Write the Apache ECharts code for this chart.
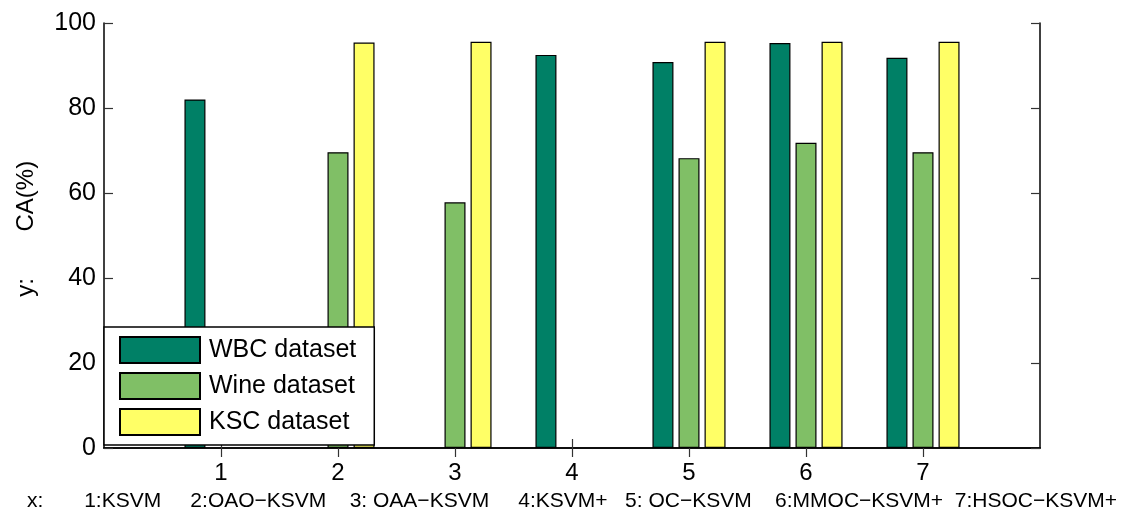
<!DOCTYPE html>
<html>
<head>
<meta charset="utf-8">
<script src="https://cdn.jsdelivr.net/npm/echarts@6/dist/echarts.min.js"></script>
<style>
  html, body { margin: 0; padding: 0; background: #fff; }
  #chart { width: 1123px; height: 511px; }
</style>
</head>
<body>
<div id="chart"></div>
<script>
// x positions 0..8, only 1..7 carry bars and labels
var xCategories = ['0', '1', '2', '3', '4', '5', '6', '7', '8'];
var seriesNames = ['WBC dataset', 'Wine dataset', 'KSC dataset'];
// values for methods 1..7 (null = no bar)
var wbcValues  = [82.0, null, null, 92.5, 90.8, 95.3, 91.8];
var wineValues = [null, 69.6, 57.8, null, 68.2, 71.8, 69.6];
var kscValues  = [null, 95.4, 95.6, null, 95.6, 95.6, 95.6];
var barColors = ['#008066', '#80bf66', '#ffff66'];
var yTicks = { min: 0, max: 100, step: 20 };
var xName = 'x:       1:KSVM     2:OAO\u2212KSVM    3: OAA\u2212KSVM     4:KSVM+   5: OC\u2212KSVM    6:MMOC\u2212KSVM+  7:HSOC\u2212KSVM+';
var yName = '  y:       CA(%)';

var FONT = 'Liberation Sans, Arial, Helvetica, sans-serif';

// pad to the 0..8 axis
function pad(arr) {
    var out = ['-'];
    for (var i = 0; i < arr.length; i++) {
        out.push(arr[i] == null ? '-' : arr[i]);
    }
    out.push('-');
    return out;
}

function showTick(i) {
    return i >= 1 && i <= 7;
}

var allValues = [wbcValues, wineValues, kscValues];
var series = [];
for (var s = 0; s < seriesNames.length; s++) {
    series.push({
        name: seriesNames[s],
        type: 'bar',
        data: pad(allValues[s]),
        barWidth: 21,
        barGap: '24%',
        itemStyle: {
            color: barColors[s],
            borderColor: '#000',
            borderWidth: 1.2
        },
        emphasis: { disabled: true },
        animation: false
    });
}

var axisLineStyle = { color: '#000', width: 1.5 };

var option = {
    backgroundColor: '#fff',
    animation: false,
    textStyle: { fontFamily: FONT },
    grid: { left: 104, right: 83, top: 23, bottom: 63, containLabel: false, outerBoundsMode: 'none' },
    legend: {
        orient: 'vertical',
        left: 104,
        top: 327,
        padding: [9, 18, 9, 15],
        itemWidth: 80,
        itemHeight: 26,
        itemGap: 8,
        icon: 'rect',
        backgroundColor: '#fff',
        borderColor: '#000',
        borderWidth: 1.5,
        borderRadius: 0,
        textStyle: { fontSize: 25, color: '#000', fontFamily: FONT, padding: [0, 0, 0, 4], lineHeight: 26 },
        data: seriesNames
    },
    xAxis: [{
        type: 'category',
        data: xCategories,
        boundaryGap: false,
        position: 'bottom',
        axisLine: { lineStyle: axisLineStyle },
        axisTick: { inside: true, length: 9, interval: showTick, lineStyle: { color: '#333', width: 1.2 } },
        axisLabel: {
            interval: showTick,
            margin: 13,
            fontSize: 24,
            color: '#000',
            fontFamily: FONT
        },
        splitLine: { show: false },
        name: xName,
        nameLocation: 'middle',
        nameGap: 43,
        nameTextStyle: { fontSize: 21, color: '#000', fontFamily: FONT }
    }, {
        type: 'category',
        data: xCategories,
        boundaryGap: false,
        position: 'top',
        axisLine: { lineStyle: axisLineStyle },
        axisTick: { inside: true, length: 9, interval: showTick, lineStyle: { color: '#333', width: 1.2 } },
        axisLabel: { show: false },
        splitLine: { show: false }
    }],
    yAxis: [{
        type: 'value',
        min: yTicks.min,
        max: yTicks.max,
        interval: yTicks.step,
        position: 'left',
        axisLine: { show: true, lineStyle: axisLineStyle },
        axisTick: { show: true, inside: true, length: 9, lineStyle: { color: '#333', width: 1.2 } },
        axisLabel: { margin: 8, fontSize: 25, color: '#000', fontFamily: FONT },
        splitLine: { show: false },
        name: yName,
        nameLocation: 'middle',
        nameGap: 66,
        nameTextStyle: { fontSize: 24, color: '#000', fontFamily: FONT }
    }, {
        type: 'value',
        min: yTicks.min,
        max: yTicks.max,
        interval: yTicks.step,
        position: 'right',
        axisLine: { show: true, lineStyle: axisLineStyle },
        axisTick: { show: true, inside: true, length: 9, lineStyle: { color: '#333', width: 1.2 } },
        axisLabel: { show: false },
        splitLine: { show: false }
    }],
    series: series
};

var myChart = echarts.init(document.getElementById('chart'), null, { renderer: 'canvas' });
myChart.setOption(option);
</script>
</body>
</html>
